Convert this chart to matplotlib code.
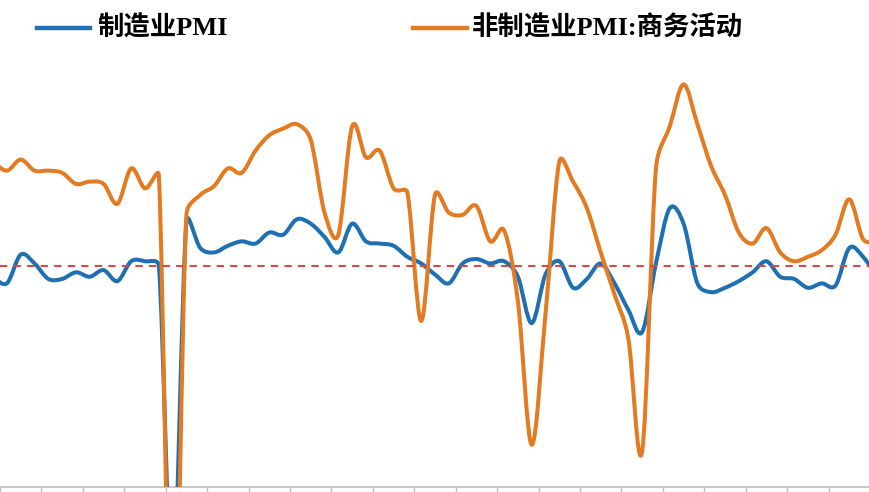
import numpy as np
import matplotlib.pyplot as plt
from matplotlib.path import Path
from matplotlib.patches import PathPatch
from matplotlib.lines import Line2D

plt.rcParams['font.family'] = ['Liberation Serif', 'Noto Sans CJK SC', 'DejaVu Sans']

# 月度数据 2019-01 ~ 2024-05
months = [f'{y}-{m:02d}' for y in range(2019, 2025) for m in range(1, 13)][:65]

mfg_pmi = [49.5, 49.2, 50.5, 50.1, 49.4, 49.4, 49.7, 49.5, 49.8, 49.3, 50.2, 50.2,
           50.0, 35.7, 52.0, 50.8, 50.6, 50.9, 51.1, 51.0, 51.5, 51.4, 52.1, 51.9,
           51.3, 50.6, 51.9, 51.1, 51.0, 50.9, 50.4, 50.1, 49.6, 49.2, 50.1, 50.3,
           50.1, 50.2, 49.5, 47.4, 49.6, 50.2, 49.0, 49.4, 50.1, 49.2, 48.0, 47.0,
           50.1, 52.6, 51.9, 49.2, 48.8, 49.0, 49.3, 49.7, 50.2, 49.5, 49.4, 49.0,
           49.2, 49.1, 50.8, 50.4, 49.5]

nonmfg_biz = [54.7, 54.3, 54.8, 54.3, 54.3, 54.2, 53.7, 53.8, 53.7, 52.8, 54.4, 53.5,
              54.1, 29.6, 52.3, 53.2, 53.6, 54.4, 54.2, 55.2, 55.9, 56.2, 56.4, 55.7,
              52.4, 51.4, 56.3, 54.9, 55.2, 53.5, 53.3, 47.5, 53.2, 52.4, 52.3, 52.7,
              51.1, 51.6, 48.4, 41.9, 47.8, 54.7, 53.8, 52.6, 50.6, 48.7, 46.7, 41.6,
              54.4, 56.3, 58.2, 56.4, 54.5, 53.2, 51.5, 51.0, 51.7, 50.6, 50.2, 50.4,
              50.7, 51.4, 53.0, 51.2, 51.1]

boom_line = 50

blue = '#1f70b3'
orange = '#e27b22'
red = '#d8474a'

fig = plt.figure(figsize=(8.7, 4.92), dpi=100)
ax = fig.add_axes([0, 5.3 / 492, 1, 1 - 5.3 / 492])
x = np.arange(len(months))
ax.set_xlim(0.858, 62.736)
ax.set_ylim(40, 62.02)


def smooth_path(xs, ys):
    # excel风格的平滑折线 (bezier), 在像素空间里算控制点
    pts = ax.transData.transform(np.column_stack([xs, ys]))
    n = len(pts)
    verts = [pts[0]]
    codes = [Path.MOVETO]
    for i in range(n - 1):
        p0 = pts[i - 1] if i > 0 else pts[i]
        p1 = pts[i]
        p2 = pts[i + 1]
        p3 = pts[i + 2] if i + 2 < n else pts[i + 1]
        seg = np.hypot(*(p2 - p1))
        a1 = (p2 - p0) / 6
        a2 = (p3 - p1) / 6
        l1 = np.hypot(*a1)
        l2 = np.hypot(*a2)
        if l1 > 0.5 * seg:
            a1 = a1 * 0.5 * seg / l1
        if l2 > 0.5 * seg:
            a2 = a2 * 0.5 * seg / l2
        verts += [p1 + a1, p2 - a2, p2]
        codes += [Path.CURVE4] * 3
    return Path(ax.transData.inverted().transform(np.array(verts)), codes)


ax.add_patch(PathPatch(smooth_path(x, mfg_pmi), fc='none', ec=blue, lw=2.9,
                       capstyle='round', joinstyle='round', zorder=3))
ax.add_patch(PathPatch(smooth_path(x, nonmfg_biz), fc='none', ec=orange, lw=2.9,
                       capstyle='round', joinstyle='round', zorder=4))
ax.axhline(boom_line, color=red, lw=1.5, ls=(0, (3.5, 3)), zorder=5)

for s in ['left', 'top', 'right']:
    ax.spines[s].set_visible(False)
ax.spines['bottom'].set_color('#bdbdbd')
ax.spines['bottom'].set_linewidth(1.2)
ax.set_xticks(x[::3] + 0.5)
ax.set_xticklabels([])
ax.set_yticks([])
ax.tick_params(axis='x', direction='out', length=6, width=1, color='#bdbdbd')

# 图例
W, H = 870, 492
ly = 1 - 28 / H
fig.add_artist(Line2D([37 / W, 90 / W], [ly, ly], color=blue, lw=3.2, transform=fig.transFigure))
fig.text(97 / W, ly, '制造业PMI', fontsize=19, fontweight='bold', va='center', ha='left')
fig.add_artist(Line2D([413 / W, 467 / W], [ly, ly], color=orange, lw=3.2, transform=fig.transFigure))
fig.text(472 / W, ly, '非制造业PMI:商务活动', fontsize=19, fontweight='bold', va='center', ha='left')

fig.savefig('out.png', dpi=100)
